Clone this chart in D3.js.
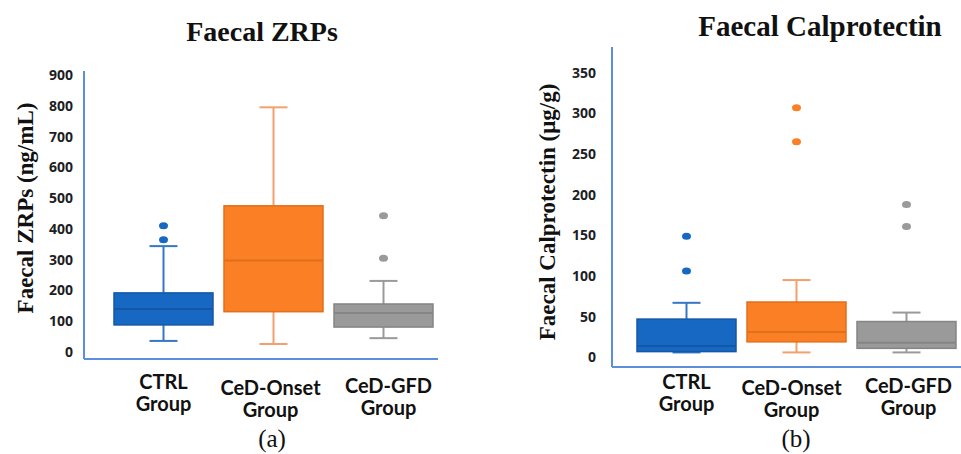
<!DOCTYPE html>
<html>
<head>
<meta charset="utf-8">
<script src="https://cdn.jsdelivr.net/npm/d3@7"></script>
<style>
  body { margin: 0; background: #fff; }
  svg { display: block; }
</style>
</head>
<body>
<div id="visualization"></div>
<script>
// categories
const groups = [["CTRL", "Group"], ["CeD-Onset", "Group"], ["CeD-GFD", "Group"]];

// panel (a) Faecal ZRPs, ng/mL
const zrpLow = [36, 26, 45];
const zrpQ1 = [88, 131, 81];
const zrpMedian = [140, 297, 127];
const zrpQ3 = [192, 475, 156];
const zrpHigh = [344, 795, 231];
const zrpOutliers = [[365, 410], [], [305, 443]];
const zrpTicks = [0, 100, 200, 300, 400, 500, 600, 700, 800, 900];

// panel (b) Faecal Calprotectin, ug/g
const calLow = [6, 6, 6];
const calQ1 = [7, 19, 11];
const calMedian = [14, 31, 18];
const calQ3 = [47, 68, 44];
const calHigh = [67, 95, 55];
const calOutliers = [[106, 149], [265, 307], [161, 188]];
const calTicks = [0, 50, 100, 150, 200, 250, 300, 350];

const fills = ["#1668c2", "#fb7f24", "#9a9a9a"];
const strokes = ["#1457a6", "#e26f1b", "#858585"];
const whiskerColors = ["#3577c4", "#f2a06c", "#9a9a9a"];

class BoxPanel {
  constructor(svg, opts) {
    this.svg = svg;
    this.o = opts;
    this.g = svg.append("g");
    this.buildScales();
    this.drawAxes();
    this.drawBoxes();
    this.drawText();
  }

  buildScales() {
    const o = this.o;
    this.x = d3.scaleBand()
      .domain(d3.range(groups.length))
      .range(o.xRange)
      .paddingInner(0.1)
      .paddingOuter(0.05);
    this.y = d3.scaleLinear().domain(o.domain).range(o.yRange);
  }

  drawAxes() {
    const o = this.o;
    const axis = d3.axisLeft(this.y)
      .tickValues(o.ticks)
      .tickSize(0)
      .tickPadding(o.axisX - o.labelRight);
    const ag = this.g.append("g")
      .attr("transform", "translate(" + o.axisX + ",0)")
      .call(axis);
    ag.select(".domain").remove();
    ag.selectAll("text")
      .attr("font-family", "'Open Sans', sans-serif")
      .attr("font-weight", "bold")
      .attr("font-size", 14)
      .attr("fill", "#1d1d24");

    this.g.append("line")
      .attr("x1", o.axisX).attr("x2", o.axisX)
      .attr("y1", o.axisTop).attr("y2", o.axisBottom)
      .attr("stroke", "#5b8fd9").attr("stroke-width", 2);
    this.g.append("line")
      .attr("x1", o.axisX).attr("x2", o.axisRight)
      .attr("y1", o.axisBottom).attr("y2", o.axisBottom)
      .attr("stroke", "#5b8fd9").attr("stroke-width", 2);
  }

  drawBoxes() {
    const o = this.o, x = this.x, y = this.y;
    const bw = x.bandwidth();
    const capW = 28;
    groups.forEach((grp, i) => {
      const cx = x(i) + bw / 2;
      const bg = this.g.append("g");
      // whiskers
      bg.append("line")
        .attr("x1", cx).attr("x2", cx)
        .attr("y1", y(o.high[i])).attr("y2", y(o.q3[i]))
        .attr("stroke", whiskerColors[i]).attr("stroke-width", 2);
      bg.append("line")
        .attr("x1", cx).attr("x2", cx)
        .attr("y1", y(o.q1[i])).attr("y2", y(o.low[i]))
        .attr("stroke", whiskerColors[i]).attr("stroke-width", 2);
      [o.high[i], o.low[i]].forEach(v => {
        bg.append("line")
          .attr("x1", cx - capW / 2).attr("x2", cx + capW / 2)
          .attr("y1", y(v)).attr("y2", y(v))
          .attr("stroke", whiskerColors[i]).attr("stroke-width", 2);
      });
      // box
      bg.append("rect")
        .attr("x", x(i)).attr("width", bw)
        .attr("y", y(o.q3[i]))
        .attr("height", y(o.q1[i]) - y(o.q3[i]))
        .attr("fill", fills[i])
        .attr("stroke", strokes[i]).attr("stroke-width", 1.5);
      bg.append("line")
        .attr("x1", x(i)).attr("x2", x(i) + bw)
        .attr("y1", y(o.median[i])).attr("y2", y(o.median[i]))
        .attr("stroke", strokes[i]).attr("stroke-width", 2);
      // outliers
      bg.selectAll("ellipse")
        .data(o.outliers[i])
        .join("ellipse")
        .attr("cx", cx).attr("cy", d => y(d))
        .attr("rx", 4.5).attr("ry", 3.5)
        .attr("fill", fills[i]);
    });
  }

  drawText() {
    const o = this.o, x = this.x;
    const lineDy = [0, 6, 4];
    groups.forEach((lines, i) => {
      lines.forEach((s, k) => {
        this.g.append("text")
          .attr("text-anchor", "middle")
          .attr("font-family", "Lato, sans-serif")
          .attr("font-weight", "bold")
          .attr("font-size", 20)
          .attr("fill", "#111")
          .attr("x", x(i) + x.bandwidth() / 2 + o.labelShift[i])
          .attr("y", 389 + lineDy[i] + k * 22)
          .text(s);
      });
    });

    this.g.append("text")
      .attr("x", o.titleX).attr("y", o.titleY)
      .attr("text-anchor", "middle")
      .attr("font-family", "'Liberation Serif', serif")
      .attr("font-weight", "bold")
      .attr("font-size", o.titleSize)
      .attr("fill", "#111")
      .text(o.title);

    this.g.append("text")
      .attr("transform", "translate(" + o.yTitleX + "," + o.yTitleY + ") rotate(-90)")
      .attr("text-anchor", "middle")
      .attr("font-family", "'Liberation Serif', serif")
      .attr("font-weight", "bold")
      .attr("font-size", 23)
      .attr("fill", "#111")
      .text(o.yTitle);

    this.g.append("text")
      .attr("x", o.captionX).attr("y", 447)
      .attr("text-anchor", "middle")
      .attr("font-family", "'Liberation Serif', serif")
      .attr("font-size", 25)
      .attr("fill", "#111")
      .text(o.caption);
  }
}

const svg = d3.select("#visualization").append("svg")
  .attr("width", 961)
  .attr("height", 454);

new BoxPanel(svg, {
  domain: [0, 900], ticks: zrpTicks,
  low: zrpLow, q1: zrpQ1, median: zrpMedian, q3: zrpQ3, high: zrpHigh, outliers: zrpOutliers,
  xRange: [108.5, 438.5], yRange: [352, 75],
  axisX: 84, labelRight: 73, axisTop: 71, axisBottom: 359, axisRight: 438,
  labelShift: [0, -3, 5],
  title: "Faecal ZRPs", titleX: 262, titleY: 41, titleSize: 28,
  yTitle: "Faecal ZRPs (ng/mL)", yTitleX: 33, yTitleY: 208,
  caption: "(a)", captionX: 272
});

new BoxPanel(svg, {
  domain: [0, 350], ticks: calTicks,
  low: calLow, q1: calQ1, median: calMedian, q3: calQ3, high: calHigh, outliers: calOutliers,
  xRange: [631.5, 961.5], yRange: [357.3, 72.7],
  axisX: 612, labelRight: 596, axisTop: 47, axisBottom: 367, axisRight: 961,
  labelShift: [0, -5, 2],
  title: "Faecal Calprotectin", titleX: 820, titleY: 36, titleSize: 29,
  yTitle: "Faecal Calprotectin (\u03bcg/g)", yTitleX: 555, yTitleY: 212,
  caption: "(b)", captionX: 796
});
</script>
</body>
</html>
